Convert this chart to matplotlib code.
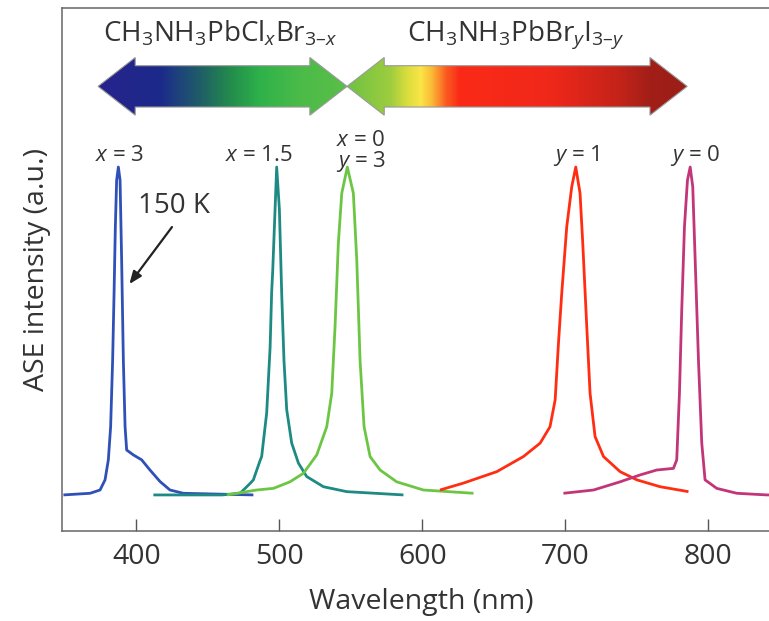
import numpy as np
import matplotlib
matplotlib.use("Agg")
from matplotlib import pyplot as plt
from matplotlib.patches import Polygon
from matplotlib.colors import LinearSegmentedColormap

plt.rcParams['font.family'] = ['Open Sans', 'DejaVu Sans']
plt.rcParams['mathtext.fontset'] = 'custom'
plt.rcParams['mathtext.rm'] = 'Open Sans'
plt.rcParams['mathtext.it'] = 'Open Sans:italic'
plt.rcParams['text.color'] = '#333333'

# spectra (wavelength nm, normalised intensity)
wl_x3 = [349, 367.6, 374.6, 378.1, 380.4, 382.0, 383.4, 384.4, 385.3, 386.2, 387.4, 388.6, 389.7,
         390.9, 392.1, 393.2, 397.9, 403.7, 409.5, 416.5, 423.5, 432.8, 481.8]
int_x3 = [0, 0.005, 0.015, 0.046, 0.107, 0.208, 0.41, 0.615, 0.818, 0.96, 1.0, 0.96, 0.716,
          0.41, 0.208, 0.137, 0.122, 0.107, 0.076, 0.041, 0.015, 0.005, 0.0]

wl_x15 = [411.9, 460, 472.5, 479.5, 481.8, 486.5, 487.6, 491.1, 493.5, 494.6, 495.3, 496.5, 498.1,
          500.0, 501.6, 503.2, 505.1, 508.6, 513.3, 519.1, 530.8, 547.1, 586.7]
int_x15 = [0, 0.0, 0.005, 0.035, 0.046, 0.105, 0.117, 0.25, 0.45, 0.62, 0.68, 0.818, 1.0,
           0.87, 0.615, 0.41, 0.26, 0.158, 0.097, 0.056, 0.025, 0.01, 0.0]

wl_y3 = [463.2, 484.1, 495.8, 507.4, 516.8, 526.1, 533.1, 536.6, 538.9, 541.2, 543.6, 547.5,
         551.7, 554.1, 556.4, 559.2, 563.4, 570.4, 582.0, 600.7, 635.7]
int_y3 = [0, 0.015, 0.02, 0.04, 0.066, 0.122, 0.208, 0.31, 0.513, 0.767, 0.92, 1.0,
          0.92, 0.716, 0.41, 0.208, 0.117, 0.076, 0.04, 0.015, 0.005]

wl_y1 = [612.3, 628.6, 652.0, 670.6, 682.3, 689.2, 692.8, 695.1, 697.4, 700.9, 704.4, 707.2, 710.2,
         712.1, 714.9, 717.2, 720.7, 726.6, 738.2, 749.9, 766.2, 786.0]
int_y1 = [0.015, 0.036, 0.071, 0.117, 0.158, 0.208, 0.29, 0.462, 0.615, 0.818, 0.94, 1.0, 0.92,
          0.767, 0.513, 0.31, 0.178, 0.117, 0.071, 0.046, 0.025, 0.01]

wl_y0 = [698.6, 719.6, 738.2, 752.2, 763.8, 775.5, 777.8, 779.7, 781.3, 783.2, 785.3, 787.2, 789.0,
         790.7, 793.0, 795.3, 797.6, 805.8, 819.8, 840.8, 850]
int_y0 = [0.005, 0.015, 0.04, 0.061, 0.076, 0.081, 0.107, 0.31, 0.564, 0.818, 0.96, 1.0, 0.94,
          0.716, 0.41, 0.158, 0.046, 0.02, 0.005, 0, 0]

colors = ['#2f50b6', '#1d8a84', '#6cc644', '#ff2d12', '#c23578']
peak_labels = ['$x$ = 3', '$x$ = 1.5', '$x$ = 0\n$y$ = 3', '$y$ = 1', '$y$ = 0']
label_wl = [388.6, 485.8, 557.0, 707.7, 790.6]
label_h = [1.035, 1.035, 1.045, 1.035, 1.035]

# gradient stops for the two composition arrows (fraction along arrow, colour)
left_stops = [(0, '#28238d'), (0.25, '#1b2a8a'), (0.31, '#1e3f7f'), (0.41, '#1f5e66'),
              (0.53, '#238c4c'), (0.65, '#2eb24a'), (0.81, '#4bbb49'), (1.0, '#5abf47')]
right_stops = [(0, '#6ec244'), (0.127, '#9fcd3e'), (0.17, '#d6dc3c'), (0.215, '#fbe547'),
               (0.25, '#fbb535'), (0.29, '#fa5a20'), (0.33, '#fb2a17'), (0.595, '#f0281a'),
               (0.80, '#c42319'), (0.89, '#a21f18'), (1.0, '#9a1e17')]

fig = plt.figure(figsize=(7.69, 6.21), dpi=100)
ax = fig.add_axes([62/769, 1-531/621, (780-62)/769, (531-8)/621])

series = [(wl_x3, int_x3), (wl_x15, int_x15), (wl_y3, int_y3), (wl_y1, int_y1), (wl_y0, int_y0)]
for (w, v), c in zip(series, colors):
    ax.plot(w, v, color=c, lw=2.0, solid_joinstyle='round', solid_capstyle='butt')

for lab, xw, yh in zip(peak_labels, label_wl, label_h):
    ax.text(xw, yh, lab, ha='center', va='center', fontsize=16, linespacing=0.9)

ax.text(426.3, 0.88, '150 K', fontsize=20, ha='center', va='center')
ax.annotate('', xy=(395.1, 0.643), xytext=(424.9, 0.817),
            arrowprops=dict(arrowstyle='-|>,head_length=0.75,head_width=0.3', color='#222222',
                            lw=1.6, shrinkA=0, shrinkB=0))


def grad_arrow(x0, x1, stops):
    yc, sh, hh, hl = 1.246, 0.063, 0.088, 26
    pts = [(x0, yc), (x0+hl, yc+hh), (x0+hl, yc+sh), (x1-hl, yc+sh), (x1-hl, yc+hh),
           (x1, yc), (x1-hl, yc-hh), (x1-hl, yc-sh), (x0+hl, yc-sh), (x0+hl, yc-hh)]
    poly = Polygon(pts, closed=True, facecolor='none', edgecolor='#9a9a9a', lw=0.8, zorder=3)
    ax.add_patch(poly)
    cmap = LinearSegmentedColormap.from_list('g', stops)
    img = ax.imshow(np.linspace(0, 1, 400)[None, :], cmap=cmap, aspect='auto',
                    extent=(x0, x1, yc-hh, yc+hh), zorder=2, interpolation='bilinear')
    img.set_clip_path(poly)


grad_arrow(373.2, 547.3, left_stops)
grad_arrow(547.3, 785.1, right_stops)

ax.text(458.5, 1.405, 'CH$_3$NH$_3$PbCl$_x$Br$_{3\u2013x}$', ha='center', va='center', fontsize=20)
ax.text(665.0, 1.405, 'CH$_3$NH$_3$PbBr$_y$I$_{3\u2013y}$', ha='center', va='center', fontsize=20)

ax.set_xlim(348, 850)
ax.set_ylim(-0.11, 1.485)
ax.set_xticks([400, 500, 600, 700, 800])
ax.set_yticks([])
ax.tick_params(axis='x', direction='in', length=9, width=1.0, color='#555555',
               labelsize=20.5, labelcolor='#333333', pad=9)
for s in ax.spines.values():
    s.set_color('#666666')
    s.set_linewidth(1.1)
ax.set_xlabel('Wavelength (nm)', fontsize=20.5, color='#333333', labelpad=12)
ax.set_ylabel('ASE intensity (a.u.)', fontsize=20.5, color='#333333', labelpad=8)

fig.savefig('out.png', dpi=100)
